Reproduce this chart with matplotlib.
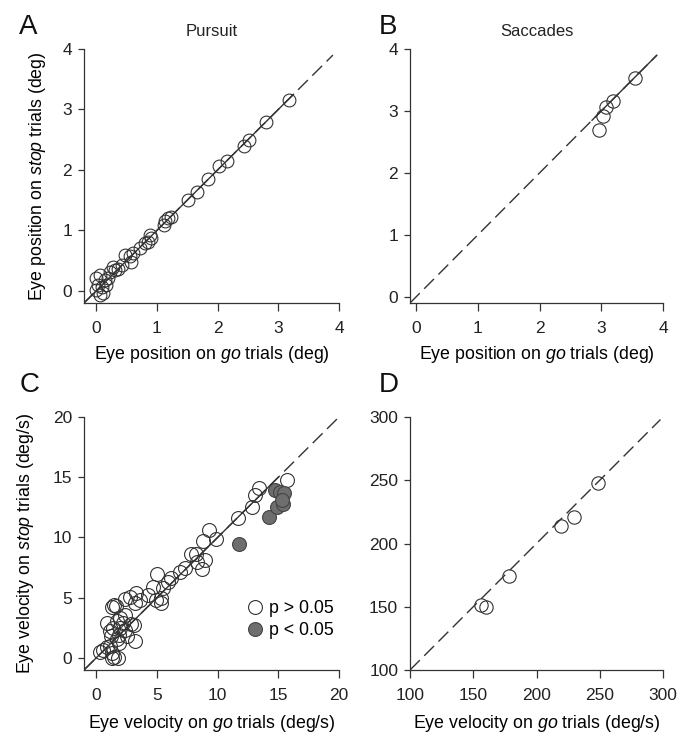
import numpy as np
import matplotlib
matplotlib.use("Agg")
import matplotlib.pyplot as plt
from matplotlib.lines import Line2D

plt.rcParams['font.family'] = ['Liberation Sans', 'DejaVu Sans']
plt.rcParams['mathtext.fontset'] = 'custom'
plt.rcParams['mathtext.rm'] = 'Liberation Sans'
plt.rcParams['mathtext.it'] = 'Liberation Sans:italic'

# pursuit eye position (deg): go vs stop trials
pos_pursuit_go = [3.18, 2.80, 2.52, 2.43, 2.16, 2.03, 1.84, 1.66, 1.51, 1.23,
                  1.13, 1.11, 1.19, 0.91, 0.89, 0.86, 0.80, 0.72, 0.61, 0.56,
                  0.58, 0.47, 0.42, 0.36, 0.31, 0.28, 0.23, 0.20, 0.14, 0.06,
                  0.00, 0.03, 0.09, 0.00, 0.06, 0.11, 0.17]
pos_pursuit_stop = [3.16, 2.79, 2.50, 2.40, 2.15, 2.07, 1.85, 1.63, 1.50, 1.23,
                    1.15, 1.09, 1.20, 0.87, 0.93, 0.81, 0.79, 0.71, 0.62, 0.57,
                    0.48, 0.60, 0.43, 0.37, 0.35, 0.40, 0.32, 0.21, 0.18, 0.26,
                    0.21, 0.10, 0.07, 0.02, -0.07, -0.03, 0.10]

# saccade eye position (deg)
pos_sacc_go = [3.55, 3.19, 3.08, 3.03, 2.97]
pos_sacc_stop = [3.53, 3.16, 3.06, 2.92, 2.70]

# pursuit eye velocity (deg/s), non-significant cells
vel_ns_go = [15.7, 13.4, 13.1, 12.8, 11.7, 9.9, 9.3, 8.8, 8.2, 7.8, 8.3, 9.0,
             8.7, 7.3, 6.9, 6.2, 5.9, 5.5, 5.0, 4.7, 5.3, 5.3, 4.9, 4.3, 3.3,
             2.8, 3.6, 3.2, 2.4, 1.5, 1.3, 1.6, 2.4, 2.0, 2.9, 1.7, 1.4, 2.4,
             1.1, 2.5, 3.2, 1.7, 1.2, 0.9, 0.6, 0.3, 1.5, 1.8, 1.3, 1.3, 1.9,
             2.0, 0.9, 1.1, 1.9, 2.2, 3.1]
vel_ns_stop = [14.8, 14.1, 13.5, 12.5, 11.6, 9.9, 10.6, 9.7, 8.6, 8.6, 8.0, 8.1,
               7.4, 7.5, 7.1, 6.6, 6.3, 5.8, 7.0, 5.9, 5.0, 4.6, 4.8, 5.2, 5.4,
               5.1, 4.8, 4.6, 4.9, 4.4, 4.2, 4.3, 3.6, 3.3, 2.8, 3.1, 2.5, 2.3,
               2.2, 1.8, 1.4, 1.6, 1.8, 0.9, 0.7, 0.5, 0.1, 0.0, 0.0, 0.4, 1.2,
               2.5, 2.9, 1.0, 1.9, 2.9, 2.7]
# significant cells (p < 0.05)
vel_sig_go = [11.8, 14.2, 14.9, 15.4, 14.7, 15.1, 15.5, 15.3]
vel_sig_stop = [9.5, 11.7, 12.5, 12.8, 13.9, 13.8, 13.7, 13.1]

# saccade peak velocity (deg/s)
vel_sacc_go = [249, 230, 219, 178, 156, 160]
vel_sacc_stop = [248, 221, 214, 174, 151, 150]

ink = '#333333'
grey_fill = '#6e6e6e'
tick_fs = 12.5
label_fs = 12.8

fig = plt.figure(figsize=(6.91, 7.40), dpi=100)
W, H = 691, 740


def add_axes(x0, x1, y0, y1):
    return fig.add_axes([x0 / W, 1 - y1 / H, (x1 - x0) / W, (y1 - y0) / H])


axA = add_axes(84, 339, 49, 303)
axB = add_axes(410, 663, 49, 303)
axC = add_axes(84, 339, 417, 670)
axD = add_axes(410, 663, 417, 670)


def style(ax, lim, ticks):
    ax.set_xlim(lim)
    ax.set_ylim(lim)
    ax.set_xticks(ticks)
    ax.set_yticks(ticks)
    for s in ['top', 'right']:
        ax.spines[s].set_visible(False)
    for s in ['left', 'bottom']:
        ax.spines[s].set_color(ink)
        ax.spines[s].set_linewidth(0.9)
    ax.tick_params(axis='x', length=6, width=0.9, pad=7, colors=ink,
                   labelsize=tick_fs, labelcolor='#222222')
    ax.tick_params(axis='y', length=4.5, width=0.9, pad=4, colors=ink,
                   labelsize=tick_fs, labelcolor='#222222')


def unity(ax, lo, hi, solid=None):
    ax.plot([lo, hi], [lo, hi], color=ink, lw=1.0, dashes=(10, 4.5), zorder=3)
    if solid is not None:
        ax.plot(solid, solid, color=ink, lw=1.0, zorder=3)


def open_pts(ax, x, y, ms):
    ax.plot(x, y, 'o', ls='none', ms=ms, mfc='none', mec=ink, mew=0.8, zorder=2)


# A: pursuit position
style(axA, (-0.2, 4), [0, 1, 2, 3, 4])
unity(axA, -0.2, 3.9, solid=(-0.2, 3.25))
open_pts(axA, pos_pursuit_go, pos_pursuit_stop, 9.2)
axA.set_title('Pursuit', fontsize=12, color='#222222', pad=9)
axA.set_xlabel(r'Eye position on $\it{go}$ trials (deg)', fontsize=label_fs)
axA.set_ylabel(r'Eye position on $\it{stop}$ trials (deg)', fontsize=label_fs)
axA.xaxis.set_label_coords(0.5, -0.16)
axA.yaxis.set_label_coords(-0.14, 0.5)

# B: saccade position
style(axB, (-0.1, 4), [0, 1, 2, 3, 4])
unity(axB, -0.1, 3.9, solid=(2.85, 3.9))
open_pts(axB, pos_sacc_go, pos_sacc_stop, 9.6)
axB.set_title('Saccades', fontsize=12, color='#222222', pad=9)
axB.set_xlabel(r'Eye position on $\it{go}$ trials (deg)', fontsize=label_fs)
axB.xaxis.set_label_coords(0.5, -0.16)

# C: pursuit velocity
style(axC, (-1, 20), [0, 5, 10, 15, 20])
unity(axC, -1, 20, solid=(-1, 15))
open_pts(axC, vel_ns_go, vel_ns_stop, 10)
axC.plot(vel_sig_go, vel_sig_stop, 'o', ls='none', ms=10, mfc=grey_fill,
         mec='#444444', mew=0.8, zorder=2)
axC.set_xlabel(r'Eye velocity on $\it{go}$ trials (deg/s)', fontsize=label_fs)
axC.set_ylabel(r'Eye velocity on $\it{stop}$ trials (deg/s)', fontsize=label_fs)
axC.xaxis.set_label_coords(0.5, -0.17)
axC.yaxis.set_label_coords(-0.19, 0.5)
handles = [
    Line2D([], [], marker='o', ls='none', ms=10, mfc='white', mec=ink, mew=0.8),
    Line2D([], [], marker='o', ls='none', ms=10, mfc=grey_fill, mec='#444444', mew=0.8),
]
axC.legend(handles, ['p > 0.05', 'p < 0.05'], loc='upper left',
           bbox_to_anchor=(0.60, 0.31), frameon=False, fontsize=label_fs,
           handlelength=1.0, handletextpad=0.3, labelspacing=0.25, borderpad=0)

# D: saccade velocity
style(axD, (100, 300), [100, 150, 200, 250, 300])
unity(axD, 100, 298)
open_pts(axD, vel_sacc_go, vel_sacc_stop, 9.6)
axD.set_xlabel(r'Eye velocity on $\it{go}$ trials (deg/s)', fontsize=label_fs)
axD.xaxis.set_label_coords(0.5, -0.17)

# panel letters
for lab, x, y in [('A', 19, 34), ('B', 379, 34), ('C', 20, 392), ('D', 379, 392)]:
    fig.text(x / W, 1 - y / H, lab, fontsize=20, color='#111111',
             ha='left', va='baseline')

fig.savefig('out.png', dpi=100)
